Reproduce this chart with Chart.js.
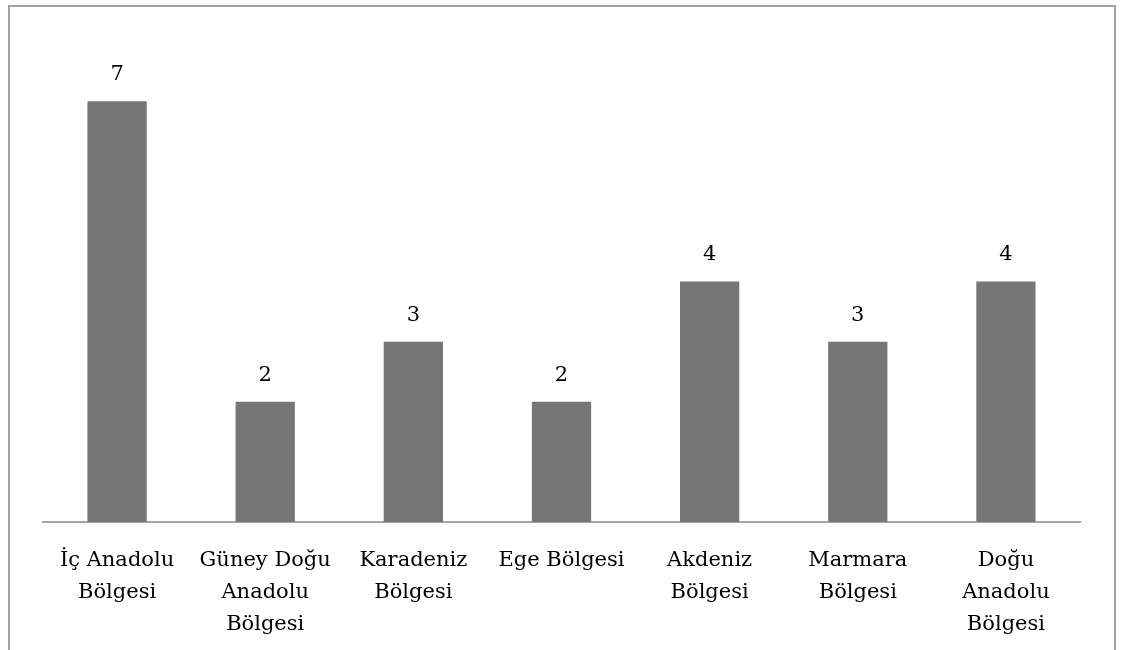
<!DOCTYPE html>
<html>
<head>
<meta charset="utf-8">
<script src="https://cdn.jsdelivr.net/npm/chart.js@4"></script>
<style>
  html, body { margin: 0; padding: 0; background: #fff; }
  #wrap { position: relative; width: 1122px; height: 650px; }
</style>
</head>
<body>
<div id="wrap"><canvas id="bolgeChart" width="1122" height="650"></canvas></div>
<script>
// bölgelere göre değerler
const categories = [
  ['İç Anadolu', 'Bölgesi'],
  ['Güney Doğu', 'Anadolu', 'Bölgesi'],
  ['Karadeniz', 'Bölgesi'],
  ['Ege Bölgesi'],
  ['Akdeniz', 'Bölgesi'],
  ['Marmara', 'Bölgesi'],
  ['Doğu', 'Anadolu', 'Bölgesi']
];
const values = [7, 2, 3, 2, 4, 3, 4];

const FONT = '"DejaVu Serif", "Liberation Serif", serif';

// çerçeve ve değer etiketleri
const framePlugin = {
  id: 'frame',
  beforeDraw(chart) {
    const ctx = chart.ctx;
    ctx.save();
    ctx.strokeStyle = '#a0a0a0';
    ctx.lineWidth = 2;
    ctx.beginPath();
    ctx.moveTo(9, 660);
    ctx.lineTo(9, 6);
    ctx.lineTo(1115, 6);
    ctx.lineTo(1115, 660);
    ctx.stroke();
    ctx.restore();
  },
  afterDatasetsDraw(chart) {
    const ctx = chart.ctx;
    const meta = chart.getDatasetMeta(0);
    ctx.save();
    ctx.fillStyle = '#000';
    ctx.font = '21px ' + FONT;
    ctx.textAlign = 'center';
    ctx.textBaseline = 'bottom';
    meta.data.forEach((bar, i) => {
      ctx.fillText(String(values[i]), bar.x, bar.y - 16);
    });
    ctx.restore();
  }
};

new Chart(document.getElementById('bolgeChart').getContext('2d'), {
  type: 'bar',
  data: {
    labels: categories,
    datasets: [{
      data: values,
      backgroundColor: '#767676',
      categoryPercentage: 1,
      barPercentage: 0.4
    }]
  },
  options: {
    responsive: false,
    animation: false,
    layout: { padding: { left: 43, right: 42, top: 41, bottom: 0 } },
    plugins: {
      legend: { display: false },
      tooltip: { enabled: false }
    },
    scales: {
      x: {
        grid: { display: false, drawTicks: false },
        border: { color: '#a6a6a6', width: 2 },
        ticks: {
          color: '#000',
          font: { family: FONT, size: 21, lineHeight: 1.52 },
          padding: 23,
          maxRotation: 0,
          autoSkip: false
        },
        afterFit(scale) { scale.height = 128; }
      },
      y: {
        display: false,
        min: 0,
        max: 8
      }
    }
  },
  plugins: [framePlugin]
});
</script>
</body>
</html>
